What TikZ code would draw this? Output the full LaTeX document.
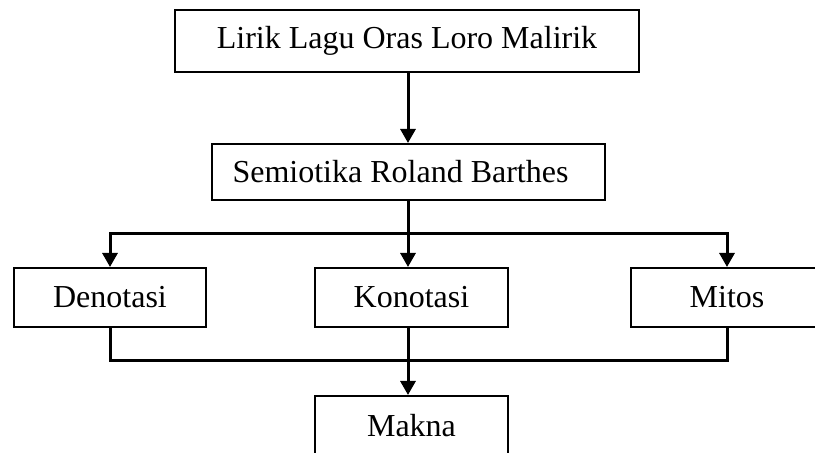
\documentclass[tikz,border=0pt]{standalone}
\usepackage{fontspec}
\setmainfont{Liberation Serif}
\usetikzlibrary{arrows.meta}

\begin{document}
\begin{tikzpicture}[x=0.5pt,y=-0.5pt]
\tikzstyle box=[draw, line width=1pt, inner sep=0pt, minimum height=29.5pt, font=\fontsize{16}{19}\selectfont]
\tikzstyle conn=[line width=1.5pt]
\tikzstyle arr=[conn, -{Triangle[width=7.5pt,length=7pt]}]

\clip (0,0) rectangle (815,453);

\node[box, minimum width=232pt, minimum height=31pt] (lirik) at (407,41) {Lirik Lagu Oras Loro Malirik};
\node[box, minimum width=196.5pt, minimum height=28pt] (semio) at (408.5,172) {Semiotika Roland Barthes\kern8pt};
\node[box, minimum width=96pt] (deno) at (110,297.5) {Denotasi};
\node[box, minimum width=96.5pt] (kono) at (411.5,297.5) {Konotasi};
\node[box, minimum width=96.5pt] (mitos) at (727,297.5) {Mitos};
\node[box, minimum width=96.5pt] (makna) at (411.5,425.5) {Makna};

\coordinate (split) at (408,234);
\coordinate (merge) at (408,361);

% ke bawah
\draw[arr] (lirik.south -| split) -- (semio.north -| split);
\draw[conn] (semio.south -| split) -- (split);
\draw[arr] (split) -| (deno.north);
\draw[arr] (split) -| (mitos.north);
\draw[arr] (split) -- (kono.north -| split);

% gabung
\draw[conn] (deno.south) |- (merge) -| (mitos.south);
\draw[arr] (kono.south -| merge) -- (makna.north -| merge);
\end{tikzpicture}
\end{document}
